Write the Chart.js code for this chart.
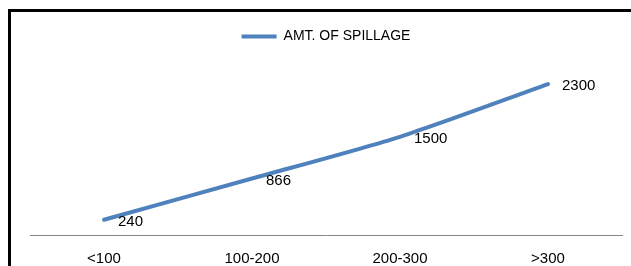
<!DOCTYPE html>
<html>
<head>
<meta charset="utf-8">
<script src="https://cdn.jsdelivr.net/npm/chart.js@4.4.0/dist/chart.umd.min.js"></script>
<style>
  html, body { margin: 0; padding: 0; background: #ffffff; }
  #frame { position: absolute; left: 8px; top: 9px; width: 700px; height: 400px;
           border-left: 3px solid #000; border-top: 3px solid #000; }
  #wrap { position: absolute; left: 0; top: 0; width: 631px; height: 266px; }
</style>
</head>
<body>
<div id="frame"></div>
<div id="wrap"><canvas id="chart"></canvas></div>
<script>
const categories = ["<100", "100-200", "200-300", ">300"];
const spillage = [240, 866, 1500, 2300];
const seriesName = "AMT. OF SPILLAGE";
const yMin = 0;
const yMax = 2500;

const lineColor = "#4F81BD";
const textColor = "#000000";
const fontFamily = "'Liberation Sans', Arial, sans-serif";

const pointLabels = {
  id: "pointLabels",
  afterDatasetsDraw(chart) {
    const ctx = chart.ctx;
    ctx.save();
    ctx.font = "15px " + fontFamily;
    ctx.fillStyle = textColor;
    ctx.textAlign = "left";
    ctx.textBaseline = "middle";
    chart.data.datasets.forEach((ds, i) => {
      const meta = chart.getDatasetMeta(i);
      meta.data.forEach((pt, j) => {
        ctx.fillText(String(ds.data[j]), pt.x + 14, pt.y + 2);
      });
    });
    ctx.restore();
  }
};

const legendSpacer = {
  id: "legendSpacer",
  afterInit(chart) {
    const lg = chart.legend;
    if (!lg) return;
    const origFit = lg.fit;
    lg.fit = function () {
      origFit.call(this);
      this.height += 17.5;
    };
  }
};

new Chart(document.getElementById("chart"), {
  type: "line",
  data: {
    labels: categories,
    datasets: [{
      label: seriesName,
      data: spillage,
      borderColor: lineColor,
      backgroundColor: lineColor,
      borderWidth: 4,
      borderCapStyle: "round",
      borderJoinStyle: "round",
      pointRadius: 0,
      pointHoverRadius: 0,
      tension: 0.25,
      fill: false
    }]
  },
  options: {
    responsive: true,
    maintainAspectRatio: false,
    animation: false,
    events: [],
    layout: { padding: { left: 30, right: 9, top: 11, bottom: 0 } },
    plugins: {
      legend: {
        display: true,
        position: "top",
        labels: {
          usePointStyle: true,
          pointStyle: "line",
          pointStyleWidth: 35,
          padding: 18.5,
          color: textColor,
          font: { family: fontFamily, size: 14 }
        }
      },
      tooltip: { enabled: false }
    },
    scales: {
      x: {
        offset: true,
        grid: { display: false, drawTicks: false },
        border: { display: true, color: "#868686", width: 1 },
        ticks: { color: textColor, padding: 14, font: { family: fontFamily, size: 15 } },
        afterFit(scale) { scale.height = 30.5; }
      },
      y: {
        display: false,
        min: yMin,
        max: yMax
      }
    }
  },
  plugins: [pointLabels, legendSpacer]
});
</script>
</body>
</html>
